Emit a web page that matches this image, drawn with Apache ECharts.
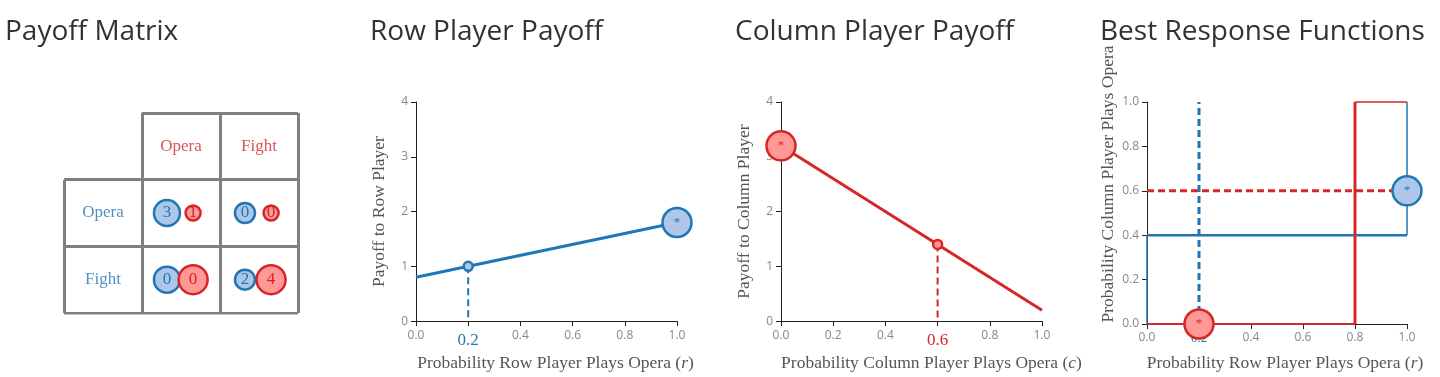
<!DOCTYPE html>
<html>
<head>
<meta charset="utf-8">
<script src="https://cdn.jsdelivr.net/npm/echarts@6/dist/echarts.min.js"></script>
<style>
  html, body { margin: 0; padding: 0; background: #fff; }
  #chart { width: 1440px; height: 377px; }
</style>
</head>
<body>
<div id="chart"></div>
<script>
  // colours
  const blue = '#1f77b4', lightBlue = '#aec7e8'
  const red = '#d62728', lightRed = '#ff9896'
  const serif = 'Liberation Serif'

  // payoff matrix (rows: row player, cols: column player)
  const strategies = ['Opera', 'Fight']
  const rowPayoff = [[3, 0], [0, 2]]
  const colPayoff = [[1, 0], [0, 4]]
  const rowCircleSize = [[26, 20], [26, 20]]
  const colCircleSize = [[15, 15], [29, 29]]
  // table grid segments [x1, y1, x2, y2] in cell units
  const tableLines = [
    [1, 0, 3, 0], [0, 1, 3, 1], [0, 2, 3, 2], [0, 3, 3, 3],
    [0, 1, 0, 3], [1, 0, 1, 3], [2, 0, 2, 3], [3, 0, 3, 3]
  ]

  // expected payoffs
  const rowLine = [[0, 0.8], [1, 1.8]]
  const rowMixed = [0.2, 1.0]
  const rowBest = [1, 1.8]
  const colLine = [[0, 3.2], [1, 0.2]]
  const colMixed = [0.6, 1.4]
  const colBest = [0, 3.2]

  // best response functions
  const brBlue = [
    { path: [[0, 0], [0, 0.4]], width: 1.5 },
    { path: [[0, 0.4], [1, 0.4]], width: 2.5 },
    { path: [[1, 0.4], [1, 1]], width: 1.5 }
  ]
  const brRed = [
    { path: [[0, 0], [0.8, 0]], width: 2 },
    { path: [[0.8, 0], [0.8, 1]], width: 3 },
    { path: [[0.8, 1], [1, 1]], width: 1.5 }
  ]
  const brBlueDash = [[0.2, 0], [0.2, 1]]
  const brRedDash = [[0, 0.6], [1, 0.6]]
  const brRedPoint = [0.2, 0]
  const brBluePoint = [1, 0.6]

  const titles = ['Payoff Matrix', 'Row Player Payoff', 'Column Player Payoff', 'Best Response Functions']
  const titleLeft = [5, 370, 735, 1100]

  const chart = echarts.init(document.getElementById('chart'))

  function probAxis(idx, name, hlValue, hlColor, hlSize, hlPad, nameShift) {
    return {
      type: 'value', gridIndex: idx, min: 0, max: 1, interval: 0.2,
      splitLine: { show: false },
      axisLine: { lineStyle: { color: '#222' } },
      axisTick: { length: 5, lineStyle: { color: '#222' } },
      axisLabel: {
        color: '#888', fontSize: 12, fontFamily: 'Open Sans',
        formatter: v => (hlValue !== null && Math.abs(v - hlValue) < 1e-9) ? '{hl|' + v.toFixed(1) + '}' : v.toFixed(1),
        rich: { hl: { color: hlColor, fontSize: hlSize, fontFamily: serif, padding: [hlPad, 0, 0, 0] } }
      },
      name: name, nameLocation: 'middle', nameGap: 30,
      nameTextStyle: {
        fontFamily: serif, fontSize: 17.5, color: '#555', padding: [0, 0, 0, nameShift],
        rich: { it: { fontFamily: serif, fontSize: 17.5, color: '#555', fontStyle: 'italic' } }
      }
    }
  }

  function payoffAxis(idx, name) {
    return {
      type: 'value', gridIndex: idx, min: 0, max: 4, interval: 1,
      splitLine: { show: false },
      axisLine: { show: true, lineStyle: { color: '#222' } },
      axisTick: { show: true, length: 5, lineStyle: { color: '#222' } },
      axisLabel: { color: '#888', fontSize: 12, fontFamily: 'Open Sans' },
      name: name, nameLocation: 'middle', nameGap: 28,
      nameTextStyle: { fontFamily: serif, fontSize: 17.5, color: '#555' }
    }
  }

  function bigPoint(x, y, value, fill, stroke) {
    return {
      type: 'scatter', xAxisIndex: x, yAxisIndex: y, clip: false, z: 5,
      symbolSize: 29, data: [value],
      itemStyle: { color: fill, borderColor: stroke, borderWidth: 2.5, opacity: 1 },
      label: { show: true, position: 'inside', formatter: '*', color: stroke, fontSize: 13, fontFamily: serif }
    }
  }
  function smallPoint(x, y, value, fill, stroke) {
    return {
      type: 'scatter', xAxisIndex: x, yAxisIndex: y, clip: false, z: 5,
      symbolSize: 9, data: [value],
      itemStyle: { color: fill, borderColor: stroke, borderWidth: 2.5, opacity: 1 }
    }
  }
  function path(x, y, data, color, width, dashed, z) {
    return {
      type: 'line', xAxisIndex: x, yAxisIndex: y, clip: false, z: z || 3,
      symbol: 'none', data: data, silent: true,
      lineStyle: { color: color, width: width, type: dashed ? [7, 4] : 'solid' }
    }
  }

  // matrix series
  const tableData = tableLines.map(s => ({ coords: [[s[0], s[1]], [s[2], s[3]]] }))
  const headerData = strategies.map((s, i) => ({ value: [i + 1.5, 0.5], name: s }))
  const rowLabelData = strategies.map((s, i) => ({ value: [0.5, i + 1.5], name: s }))
  const blueCells = [], redCells = []
  for (let r = 0; r < 2; r++) {
    for (let c = 0; c < 2; c++) {
      blueCells.push({ value: [c + 1.32, r + 1.5, rowPayoff[r][c]], symbolSize: rowCircleSize[r][c] })
      redCells.push({ value: [c + 1.655, r + 1.5, colPayoff[r][c]], symbolSize: colCircleSize[r][c] })
    }
  }

  const series = [
    {
      type: 'lines', coordinateSystem: 'cartesian2d', xAxisIndex: 0, yAxisIndex: 0,
      data: tableData, lineStyle: { color: '#808080', width: 3, opacity: 1 }, silent: true
    },
    {
      type: 'scatter', xAxisIndex: 0, yAxisIndex: 0, symbolSize: 0, data: headerData,
      label: { show: true, position: 'inside', formatter: p => p.name, color: red, fontFamily: serif, fontSize: 17 }
    },
    {
      type: 'scatter', xAxisIndex: 0, yAxisIndex: 0, symbolSize: 0, data: rowLabelData,
      label: { show: true, position: 'inside', formatter: p => p.name, color: blue, fontFamily: serif, fontSize: 17 }
    },
    {
      type: 'scatter', xAxisIndex: 0, yAxisIndex: 0, data: blueCells, z: 4,
      itemStyle: { color: lightBlue, borderColor: blue, borderWidth: 2.5, opacity: 1 },
      label: { show: true, position: 'inside', formatter: p => p.value[2], color: blue, fontFamily: serif, fontSize: 17 }
    },
    {
      type: 'scatter', xAxisIndex: 0, yAxisIndex: 0, data: redCells, z: 5,
      itemStyle: { color: lightRed, borderColor: red, borderWidth: 2.5, opacity: 1 },
      label: { show: true, position: 'inside', formatter: p => p.value[2], color: red, fontFamily: serif, fontSize: 17 }
    },

    // row player payoff
    path(1, 1, [rowMixed, [rowMixed[0], 0]], blue, 2, true),
    path(1, 1, rowLine, blue, 3, false),
    smallPoint(1, 1, rowMixed, lightBlue, blue),
    bigPoint(1, 1, rowBest, lightBlue, blue),

    // column player payoff
    path(2, 2, [colMixed, [colMixed[0], 0]], red, 2, true),
    path(2, 2, colLine, red, 3, false),
    smallPoint(2, 2, colMixed, lightRed, red),
    bigPoint(2, 2, colBest, lightRed, red),

    // best responses
    ...brBlue.map(s => path(3, 3, s.path, blue, s.width, false, 3)),
    ...brRed.map(s => path(3, 3, s.path, red, s.width, false, 4)),
    path(3, 3, brBlueDash, blue, 3, true, 4),
    path(3, 3, brRedDash, red, 3, true, 4),
    bigPoint(3, 3, brRedPoint, lightRed, red),
    bigPoint(3, 3, brBluePoint, lightBlue, blue)
  ]

  chart.setOption({
    animation: false,
    title: titles.map((t, i) => ({
      text: t, left: titleLeft[i], top: 18, padding: 0,
      textStyle: { fontFamily: 'Open Sans', fontSize: 28, fontWeight: 'normal', color: '#333' }
    })),
    grid: [
      { left: 64, top: 113, width: 234, height: 200 },
      { left: 416, top: 102, width: 261, height: 222 },
      { left: 781, top: 102, width: 261, height: 222 },
      { left: 1147, top: 102, width: 260, height: 222 }
    ],
    xAxis: [
      { type: 'value', gridIndex: 0, min: 0, max: 3, show: false },
      probAxis(1, 'Probability Row Player Plays Opera ({it|r})', 0.2, blue, 17, 3, 18),
      probAxis(2, 'Probability Column Player Plays Opera ({it|c})', 0.6, red, 17, 3, 40),
      probAxis(3, 'Probability Row Player Plays Opera ({it|r})', 0.2, blue, 13, 0, 16)
    ],
    yAxis: [
      { type: 'value', gridIndex: 0, min: 0, max: 3, inverse: true, show: false },
      payoffAxis(1, 'Payoff to Row Player'),
      payoffAxis(2, 'Payoff to Column Player'),
      Object.assign(probAxis(3, 'Probability Column Player Plays Opera', null, blue, 13, 0, 58), { nameGap: 30 })
    ],
    series: series
  })
</script>
</body>
</html>
